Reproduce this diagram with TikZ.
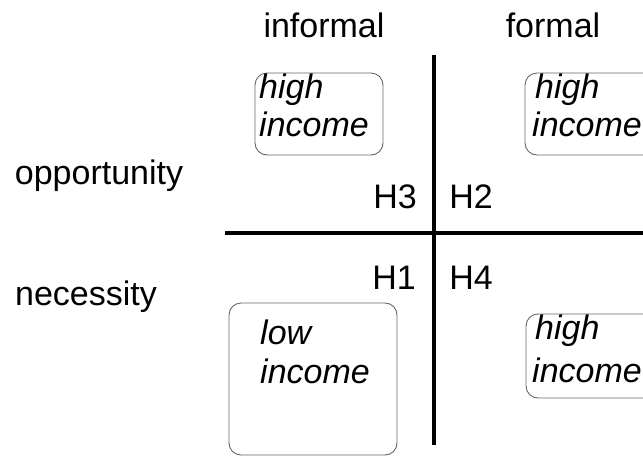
\documentclass[tikz,border=0pt]{standalone}
\usepackage{fontspec}
\setmainfont{Liberation Sans}
\begin{document}
\begin{tikzpicture}[x=1pt,y=-1pt,
  lbl/.style={inner sep=0pt, anchor=base, font=\fontsize{34}{39}\selectfont},
  itx/.style={inner sep=0pt, anchor=base west, font=\fontsize{34}{39}\selectfont\itshape},
  ibox/.style={draw=black!60, line width=0.9pt, rounded corners=12pt, inner sep=0pt},
  axis/.style={line width=4pt, black}]
\useasboundingbox (0,0) rectangle (643,456);
\clip (0,0) rectangle (643,456);
% column and row headings
\node[lbl] (informal) at (324,37) {informal};
\node[lbl] (formal) at (553,37) {formal};
\node[lbl] (opp) at (99,184) {opportunity};
\node[lbl] (nec) at (86,305) {necessity};
% axes
\coordinate (vt) at (434,55);
\coordinate (vb) at (434,445);
\coordinate (hl) at (225,233);
\coordinate (hr) at (650,233);
\draw[axis] (vt) -- (vb);
\draw[axis] (hl) -- (hr);
% hypothesis labels
\node[lbl] (h3) at (395,208) {H3};
\node[lbl] (h2) at (471,208) {H2};
\node[lbl] (h1) at (394,289) {H1};
\node[lbl] (h4) at (471,289) {H4};
% boxes
\node[ibox, minimum width=128pt, minimum height=82pt] (tlbox) at (319,114) {};
\node[ibox, minimum width=135pt, minimum height=82pt] (trbox) at (592.5,114) {};
\node[ibox, minimum width=168pt, minimum height=152pt] (blbox) at (313,379) {};
\node[ibox, minimum width=134pt, minimum height=84pt] (brbox) at (593,356) {};
% box texts
\node[itx] (tl1) at (259,98) {high};
\node[itx] (tl2) at (259,136) {income};
\node[itx] (tr1) at (535,98) {high};
\node[itx] (tr2) at (532,136) {income};
\node[itx] (bl1) at (260,344) {low};
\node[itx] (bl2) at (260,383) {income};
\node[itx] (br1) at (535,339) {high};
\node[itx] (br2) at (532,382) {income};
\end{tikzpicture}
\end{document}
